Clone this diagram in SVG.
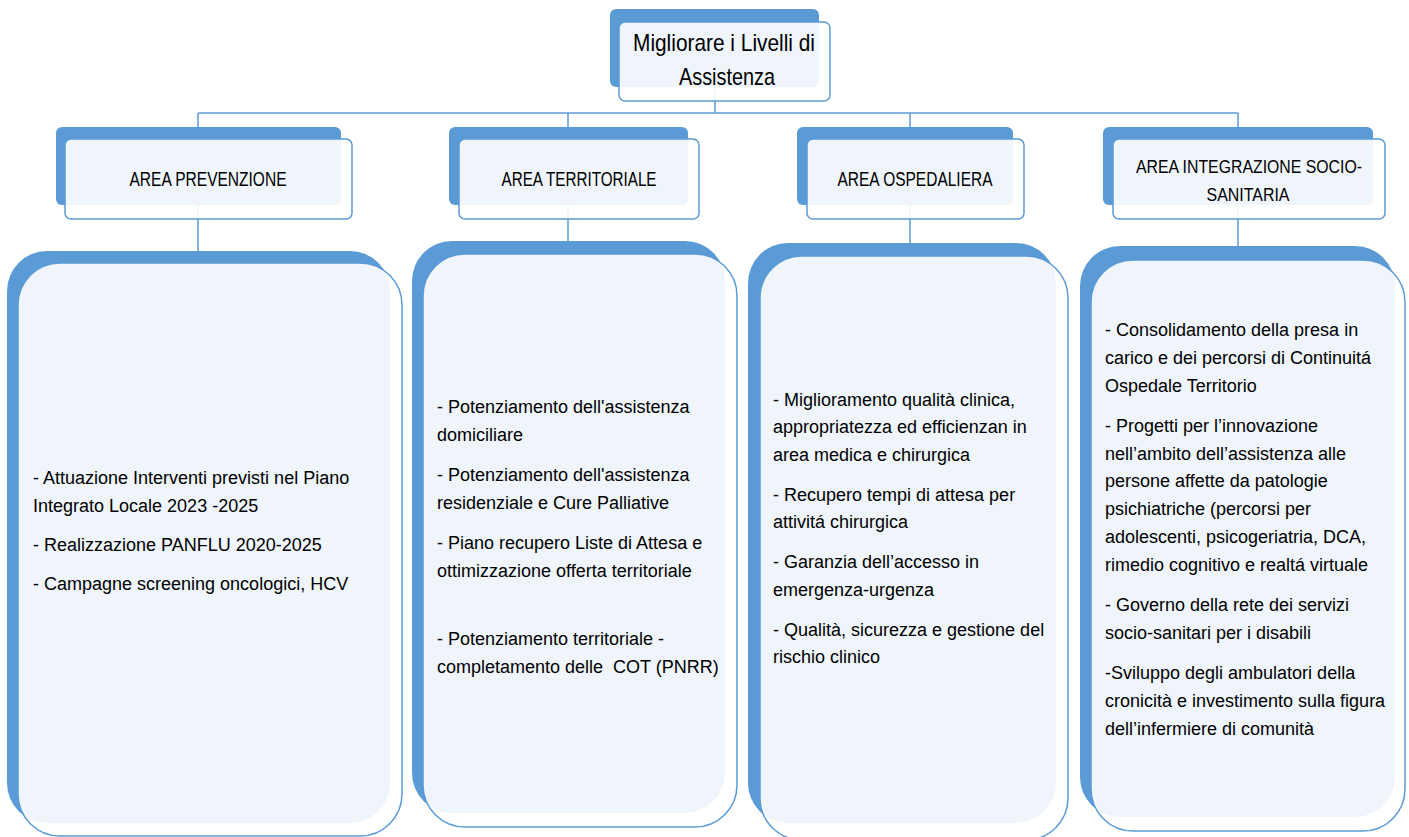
<svg xmlns="http://www.w3.org/2000/svg" width="1409" height="837" viewBox="0 0 1409 837">
  <style>
    .back { fill: #5B9BD5; }
    .front { fill: #FFFFFF; fill-opacity: 0.9; stroke: #5B9BD5; stroke-width: 1.5; }
    .link { fill: none; stroke: #5B9BD5; stroke-width: 1.5; }
    text { font-family: "Liberation Sans", Arial, sans-serif; fill: #000000; }
    .title { font-size: 24px; text-anchor: middle; }
    .head { font-size: 20px; text-anchor: middle; }
    .head2 { font-size: 18px; text-anchor: middle; }
    .body { font-size: 18px; }
  </style>

  <!-- connectors (drawn first so the translucent cards show them faintly) -->
  <g id="connectors" class="link">
    <path d="M715 87 V113"/>
    <path d="M198 113 H1238"/>
    <path d="M198 113 V127"/>
    <path d="M568 113 V127"/>
    <path d="M910 113 V127"/>
    <path d="M1238 113 V127"/>
    <path d="M198 205 V251"/>
    <path d="M568 205 V241"/>
    <path d="M910 205 V243"/>
    <path d="M1238 205 V246"/>
  </g>

  <!-- root -->
  <g id="root">
    <rect class="back" x="610" y="9" width="209" height="78" rx="6"/>
    <rect class="front" x="619" y="22" width="211" height="79" rx="6"/>
    <text class="title" x="724" y="51" textLength="182" lengthAdjust="spacingAndGlyphs">Migliorare i Livelli di</text>
    <text class="title" x="727" y="85" textLength="96" lengthAdjust="spacingAndGlyphs">Assistenza</text>
  </g>

  <!-- area headers -->
  <g id="area-prevenzione">
    <rect class="back" x="56" y="127" width="285" height="78" rx="6"/>
    <rect class="front" x="65" y="139" width="287" height="80" rx="6"/>
    <text class="head" x="208" y="186" textLength="157" lengthAdjust="spacingAndGlyphs">AREA PREVENZIONE</text>
  </g>
  <g id="area-territoriale">
    <rect class="back" x="449" y="127" width="239" height="78" rx="6"/>
    <rect class="front" x="459" y="139" width="240" height="80" rx="6"/>
    <text class="head" x="579" y="186" textLength="155" lengthAdjust="spacingAndGlyphs">AREA TERRITORIALE</text>
  </g>
  <g id="area-ospedaliera">
    <rect class="back" x="797" y="127" width="216" height="78" rx="6"/>
    <rect class="front" x="807" y="139" width="217" height="80" rx="6"/>
    <text class="head" x="915" y="186" textLength="155" lengthAdjust="spacingAndGlyphs">AREA OSPEDALIERA</text>
  </g>
  <g id="area-integrazione">
    <rect class="back" x="1103" y="127" width="270" height="78" rx="6"/>
    <rect class="front" x="1113" y="139" width="272" height="80" rx="6"/>
    <text class="head2" x="1249" y="173" textLength="226" lengthAdjust="spacingAndGlyphs">AREA INTEGRAZIONE SOCIO-</text>
    <text class="head2" x="1248" y="201" textLength="83" lengthAdjust="spacingAndGlyphs">SANITARIA</text>
  </g>

  <!-- detail cards -->
  <g id="detail-prevenzione">
    <rect class="back" x="7" y="251" width="383" height="572" rx="40"/>
    <rect class="front" x="18" y="263" width="384" height="573" rx="42"/>
    <text class="body" x="33" y="484">- Attuazione Interventi previsti nel Piano</text>
    <text class="body" x="33" y="512">Integrato Locale 2023 -2025</text>
    <text class="body" x="33" y="551">- Realizzazione PANFLU 2020-2025</text>
    <text class="body" x="33" y="590">- Campagne screening oncologici, HCV</text>
  </g>

  <g id="detail-territoriale">
    <rect class="back" x="412" y="241" width="313" height="572" rx="40"/>
    <rect class="front" x="423" y="254" width="314" height="573" rx="42"/>
    <text class="body" x="437" y="413">- Potenziamento dell'assistenza</text>
    <text class="body" x="437" y="441">domiciliare</text>
    <text class="body" x="437" y="481">- Potenziamento dell'assistenza</text>
    <text class="body" x="437" y="509">residenziale e Cure Palliative</text>
    <text class="body" x="437" y="549">- Piano recupero Liste di Attesa e</text>
    <text class="body" x="437" y="577">ottimizzazione offerta territoriale</text>
    <text class="body" x="437" y="645">- Potenziamento territoriale -</text>
    <text class="body" x="437" y="673" xml:space="preserve">completamento delle  COT (PNRR)</text>
  </g>

  <g id="detail-ospedaliera">
    <rect class="back" x="748" y="243" width="308" height="580" rx="40"/>
    <rect class="front" x="760" y="256" width="308" height="584" rx="42"/>
    <text class="body" x="773" y="406">- Miglioramento qualità clinica,</text>
    <text class="body" x="773" y="433">appropriatezza ed efficienzan in</text>
    <text class="body" x="773" y="461">area medica e chirurgica</text>
    <text class="body" x="773" y="501">- Recupero tempi di attesa per</text>
    <text class="body" x="773" y="528">attivitá chirurgica</text>
    <text class="body" x="773" y="568">- Garanzia dell’accesso in</text>
    <text class="body" x="773" y="596">emergenza-urgenza</text>
    <text class="body" x="773" y="636">- Qualità, sicurezza e gestione del</text>
    <text class="body" x="773" y="663">rischio clinico</text>
  </g>

  <g id="detail-integrazione">
    <rect class="back" x="1080" y="246" width="315" height="571" rx="40"/>
    <rect class="front" x="1091" y="260" width="314" height="571" rx="42"/>
    <text class="body" x="1105" y="336">- Consolidamento della presa in</text>
    <text class="body" x="1105" y="364">carico e dei percorsi di Continuitá</text>
    <text class="body" x="1105" y="392">Ospedale Territorio</text>
    <text class="body" x="1105" y="432">- Progetti per l’innovazione</text>
    <text class="body" x="1105" y="460">nell’ambito dell’assistenza alle</text>
    <text class="body" x="1105" y="487">persone affette da patologie</text>
    <text class="body" x="1105" y="515">psichiatriche (percorsi per</text>
    <text class="body" x="1105" y="543">adolescenti, psicogeriatria, DCA,</text>
    <text class="body" x="1105" y="571">rimedio cognitivo e realtá virtuale</text>
    <text class="body" x="1105" y="611">- Governo della rete dei servizi</text>
    <text class="body" x="1105" y="639">socio-sanitari per i disabili</text>
    <text class="body" x="1105" y="679">-Sviluppo degli ambulatori della</text>
    <text class="body" x="1105" y="707">cronicità e investimento sulla figura</text>
    <text class="body" x="1105" y="735">dell’infermiere di comunità</text>
  </g>
</svg>
